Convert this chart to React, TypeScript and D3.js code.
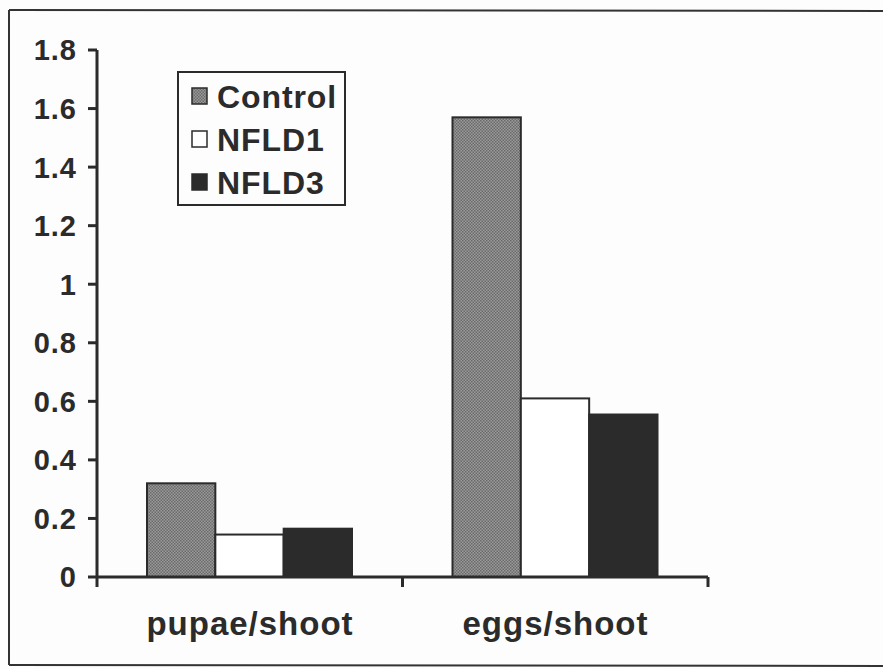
import React from "react";
import * as d3 from "d3";

const categories = ["pupae/shoot", "eggs/shoot"];
const seriesNames = ["Control", "NFLD1", "NFLD3"];
const controlValues = [0.32, 1.57];
const nfld1Values = [0.145, 0.61];
const nfld3Values = [0.165, 0.555];
const yTicks = [0, 0.2, 0.4, 0.6, 0.8, 1, 1.2, 1.4, 1.6, 1.8];

const seriesValues = [controlValues, nfld1Values, nfld3Values];
const fills = ["url(#dotPat)", "#ffffff", "#2b2b2b"];

export default function App() {
  const W = 883, H = 669;
  const x0 = 97, x1 = 708, yTop = 50, yBot = 577;
  const y = d3.scaleLinear().domain([0, 1.8]).range([yBot, yTop]);
  const xBand = d3.scaleBand<string>().domain(categories).range([x0, x1]).paddingInner(0).paddingOuter(0);
  const inner = d3.scaleBand<string>().domain(seriesNames).range([50, 255]).padding(0);
  const font = "'Liberation Sans', Arial, sans-serif";

  return (
    <svg width={W} height={H} style={{ position: "absolute", left: 0, top: 0, background: "#fdfdfd" }}>
      <defs>
        <pattern id="dotPat" width="3" height="3" patternUnits="userSpaceOnUse">
          <rect width="3" height="3" fill="#9a9a9a" />
          <rect width="1.5" height="1.5" fill="#6a6a6a" />
          <rect x="1.5" y="1.5" width="1.5" height="1.5" fill="#6a6a6a" />
        </pattern>
      </defs>
      {/* frame */}
      <line x1={9} y1={10} x2={883} y2={11} stroke="#333" strokeWidth={2} />
      <line x1={9} y1={10} x2={9} y2={665} stroke="#333" strokeWidth={2} />
      <line x1={9} y1={665} x2={883} y2={666} stroke="#333" strokeWidth={2} />

      {/* bars */}
      {categories.map((c, ci) => (
        <g key={c}>
          {seriesNames.map((s, si) => {
            const v = seriesValues[si][ci];
            const bx = (xBand(c) as number) + (inner(s) as number);
            return (
              <rect key={s} x={bx} y={y(v)} width={inner.bandwidth()} height={yBot - y(v)}
                fill={fills[si]} stroke="#2b2b2b" strokeWidth={2} />
            );
          })}
        </g>
      ))}

      {/* y axis */}
      <line x1={x0} y1={yTop} x2={x0} y2={yBot} stroke="#2b2b2b" strokeWidth={3} />
      {yTicks.map((t) => (
        <g key={t}>
          <line x1={x0 - 9} x2={x0} y1={y(t)} y2={y(t)} stroke="#2b2b2b" strokeWidth={3} />
          <text x={77} y={y(t)} dy="0.36em" textAnchor="end" fontFamily={font} fontWeight="bold" fontSize={29} letterSpacing={1} fill="#2b2b2b">
            {String(t)}
          </text>
        </g>
      ))}

      {/* x axis */}
      <line x1={x0} y1={yBot} x2={x1} y2={yBot} stroke="#2b2b2b" strokeWidth={3} />
      {[x0, ...categories.map((c) => (xBand(c) as number) + xBand.bandwidth())].map((tx, i) => (
        <line key={i} x1={tx} x2={tx} y1={yBot} y2={yBot + 10} stroke="#2b2b2b" strokeWidth={3} />
      ))}
      {categories.map((c) => (
        <text key={c} x={(xBand(c) as number) + 153} y={635} textAnchor="middle" fontFamily={font} fontWeight="bold" fontSize={33} letterSpacing={1} fill="#2b2b2b">
          {c}
        </text>
      ))}

      {/* legend */}
      <rect x={178} y={72} width={167} height={133} fill="#fdfdfd" stroke="#2b2b2b" strokeWidth={2} />
      {seriesNames.map((s, i) => (
        <g key={s}>
          <rect x={192} y={88 + i * 43} width={15} height={16} fill={fills[i]} stroke="#2b2b2b" strokeWidth={1.5} />
          <text x={217} y={96 + i * 43} dy="0.36em" fontFamily={font} fontWeight="bold" fontSize={32} letterSpacing={0.9} fill="#2b2b2b">
            {s}
          </text>
        </g>
      ))}
    </svg>
  );
}
